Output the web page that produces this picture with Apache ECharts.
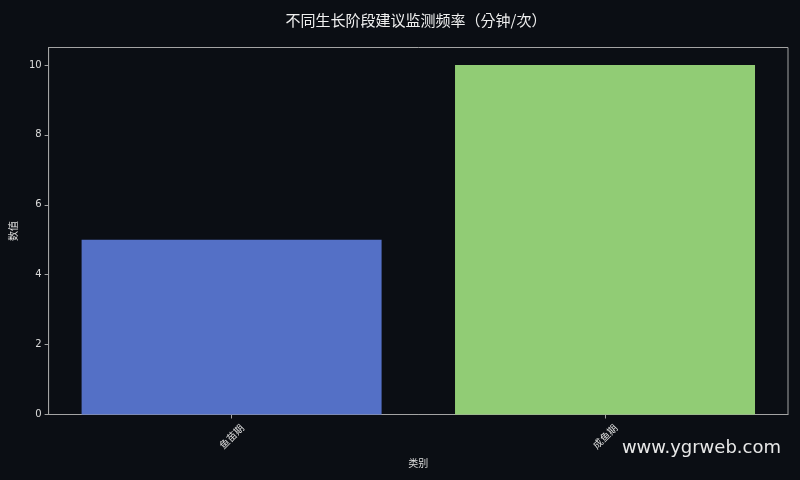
<!DOCTYPE html>
<html><head><meta charset="utf-8">
<script src="https://cdn.jsdelivr.net/npm/echarts@6/dist/echarts.min.js"></script>
<style>html,body{margin:0;padding:0;background:#0b0e14}#c{width:800px;height:480px}</style>
</head><body><div id="c"></div>
<script>
const categories = ['鱼苗期', '成鱼期'];
const values = [5, 10];
const barColors = ['#5470c6', '#91cc75'];
const yTicks = [0, 2, 4, 6, 8, 10];
const titleText = '不同生长阶段建议监测频率（分钟/次）';

const FONT = '"DejaVu Sans","Noto Sans CJK SC",sans-serif';
const LINE = '#a4a4a4';
const chart = echarts.init(document.getElementById('c'));
chart.setOption({
  backgroundColor: '#0b0e14',
  animation: false,
  grid: { left: 46.5, right: 12, top: 47.5, bottom: 65.5, show: true, borderColor: LINE, borderWidth: 1, backgroundColor: 'transparent' },
  xAxis: {
    type: 'value', min: -0.49, max: 1.49,
    name: '类别', nameLocation: 'middle', nameGap: 44,
    nameTextStyle: { color: '#dcdcdc', fontSize: 10, fontFamily: '"Noto Sans CJK SC",sans-serif' },
    splitLine: { show: false },
    axisLine: { show: true, onZero: false, lineStyle: { color: LINE } },
    axisTick: { show: true, length: 4, lineStyle: { color: LINE }, customValues: [0, 1] },
    axisLabel: {
      customValues: [0, 1], rotate: 45, color: '#dcdcdc', fontSize: 10, margin: 22,
      align: 'center', verticalAlign: 'middle',
      fontFamily: '"Noto Sans CJK SC",sans-serif',
      formatter: v => categories[Math.round(v)] || ''
    }
  },
  yAxis: {
    type: 'value', min: 0, max: 10.5, interval: 2,
    name: '数值', nameLocation: 'middle', nameGap: 30, nameRotate: 90,
    nameTextStyle: { color: '#dcdcdc', fontSize: 10, fontFamily: '"Noto Sans CJK SC",sans-serif' },
    splitLine: { show: false },
    axisLine: { show: true, onZero: false, lineStyle: { color: LINE } },
    axisTick: { show: true, length: 4, lineStyle: { color: LINE }, customValues: yTicks },
    axisLabel: { customValues: yTicks, color: '#dcdcdc', fontSize: 10, margin: 7, fontFamily: FONT }
  },
  series: [{
    type: 'bar',
    barWidth: 300,
    data: values.map((v, i) => ({ value: [i, v], itemStyle: { color: barColors[i] } }))
  }],
  graphic: [{
    type: 'text', x: 416, y: 20,
    style: { text: titleText, fill: '#f0f0f0', fontSize: 15, align: 'center', verticalAlign: 'middle',
      fontFamily: '"Noto Sans CJK KR",sans-serif' }
  }, {
    type: 'text', right: 19, top: 439,
    style: { text: 'www.ygrweb.com', fill: '#e8e8e8', fontSize: 18, fontFamily: '"DejaVu Sans",sans-serif' }
  }]
});
</script></body></html>
